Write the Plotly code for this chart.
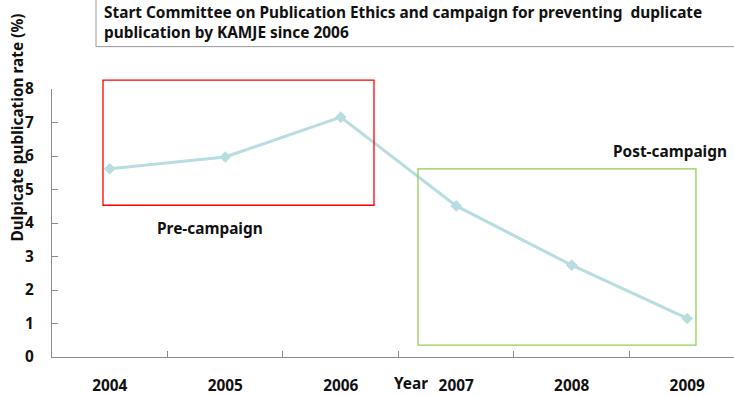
import plotly.graph_objects as go

years = ["2004", "2005", "2006", "2007", "2008", "2009"]
rates = [5.62, 5.97, 7.16, 4.51, 2.74, 1.15]
y_ticks = [0, 1, 2, 3, 4, 5, 6, 7, 8]

FONT = "Noto Sans"
TXT = "#111111"
AX = "#8c8c8c"
FS = 15.4

fig = go.Figure()
fig.add_trace(go.Scatter(
    x=years, y=rates, mode="lines+markers",
    line=dict(color="#b7dde0", width=3),
    marker=dict(symbol="diamond", size=9, color="#b7dde0"),
    showlegend=False, cliponaxis=False,
))

fig.update_layout(
    width=734, height=396,
    margin=dict(l=52, r=0, t=89, b=35),
    paper_bgcolor="white", plot_bgcolor="white",
    font=dict(family=FONT, size=FS, color=TXT),
    xaxis=dict(
        type="category", range=[-0.5, 5.405],
        showgrid=False, zeroline=False,
        showline=True, linecolor=AX, linewidth=1,
        ticks="inside", ticklen=6, tickcolor=AX, tickson="boundaries",
        tickfont=dict(family=FONT, size=FS, color=TXT, weight="bold"),
        ticklabelstandoff=15,
    ),
    yaxis=dict(
        range=[0, 8], tickvals=y_ticks,
        showgrid=False, zeroline=False,
        showline=True, linecolor=AX, linewidth=1,
        ticks="inside", ticklen=6, tickcolor=AX,
        tickfont=dict(family=FONT, size=FS, color=TXT, weight="bold"),
        ticklabelstandoff=14,
    ),
)

# Title box
fig.add_shape(type="rect", xref="paper", yref="paper",
              x0=(96 - 52) / 682, x1=1.01,
              y0=(361 - 46) / 272, y1=(361 + 2) / 272,
              line=dict(color="#999999", width=1), fillcolor="white")
fig.add_annotation(
    xref="paper", yref="paper", x=(102 - 52) / 682, y=(361 - 22) / 272,
    xanchor="left", yanchor="middle", align="left", showarrow=False,
    text="<b>Start Committee on Publication Ethics and campaign for preventing  duplicate<br>publication by KAMJE since 2006</b>",
    font=dict(family=FONT, size=FS, color=TXT),
)

# Pre/Post campaign boxes
fig.add_shape(type="rect", xref="x", yref="paper",
              x0=(103 - 52) / 115.5 - 0.5, x1=(374 - 52) / 115.5 - 0.5,
              y0=(361 - 207) / 272, y1=(361 - 80) / 272,
              line=dict(color="#ff0000", width=1.3), layer="above")
fig.add_shape(type="rect", xref="x", yref="paper",
              x0=(418 - 52) / 115.5 - 0.5, x1=(696 - 52) / 115.5 - 0.5,
              y0=(361 - 349) / 272, y1=(361 - 170) / 272,
              line=dict(color="#92d050", width=1.3), layer="above")

fig.add_annotation(xref="x", yref="paper", x=(210 - 52) / 115.5 - 0.5, y=(361 - 231) / 272,
                   text="<b>Pre-campaign</b>", showarrow=False,
                   font=dict(family=FONT, size=FS, color=TXT))
fig.add_annotation(xref="x", yref="paper", x=(670 - 52) / 115.5 - 0.5, y=(361 - 140) / 272,
                   text="<b>Post-campaign</b>", showarrow=False,
                   font=dict(family=FONT, size=FS, color=TXT))
fig.add_annotation(xref="x", yref="paper", x=(411 - 52) / 115.5 - 0.5, y=(361 - 387) / 272,
                   text="<b>Year</b>", showarrow=False, yanchor="middle",
                   height=16, borderpad=0, valign="middle",
                   font=dict(family=FONT, size=FS, color=TXT))

# Y axis title
fig.add_annotation(xref="paper", yref="paper", x=(17 - 52) / 682, y=(361 - 128) / 272,
                   text="<b>Dulpicate publication rate (%)</b>", showarrow=False,
                   textangle=-90, xanchor="center", yanchor="middle",
                   font=dict(family=FONT, size=FS, color=TXT))

fig.write_html("out.html", config={"displayModeBar": False},
               post_script="document.body.style.margin='0px';document.body.style.overflow='hidden';")
